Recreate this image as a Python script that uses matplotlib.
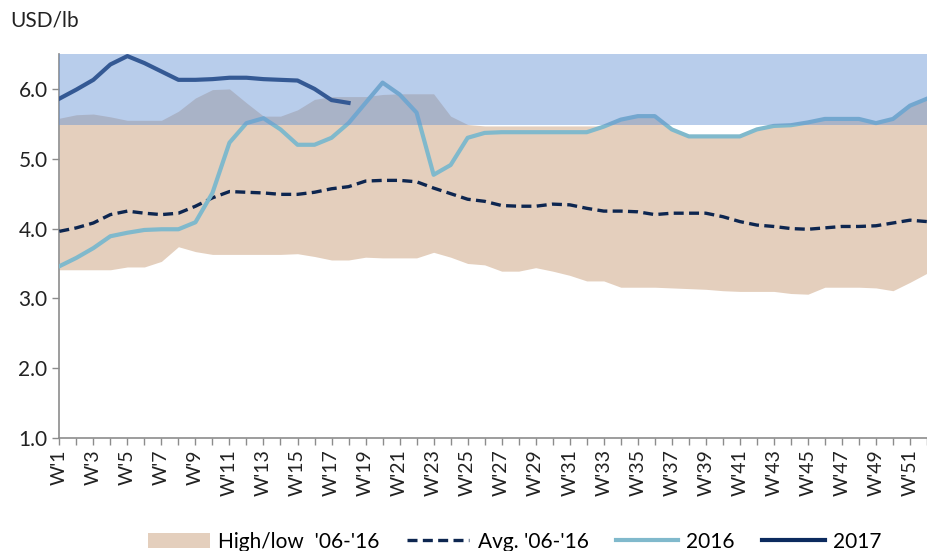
import numpy as np
import matplotlib
matplotlib.use("Agg")
import matplotlib.pyplot as plt
from matplotlib.patches import Patch
from matplotlib.lines import Line2D

plt.rcParams['font.family'] = ['Lato', 'DejaVu Sans']

weeks = [f"W'{i}" for i in range(1, 53)]

band_high = [5.58, 5.63, 5.64, 5.60, 5.55, 5.55, 5.55, 5.68, 5.87, 5.99,
             6.00, 5.80, 5.61, 5.61, 5.70, 5.85, 5.89, 5.89, 5.89, 5.92,
             5.93, 5.93, 5.93, 5.61, 5.49, 5.47, 5.47, 5.47, 5.47, 5.47,
             5.47, 5.47, 5.47, 5.56, 5.61, 5.61, 5.42, 5.32, 5.32, 5.32,
             5.32, 5.42, 5.47, 5.48, 5.52, 5.57, 5.57, 5.57, 5.52, 5.57,
             5.76, 5.86]
band_low = [3.41, 3.41, 3.41, 3.41, 3.45, 3.45, 3.53, 3.74, 3.67, 3.63,
            3.63, 3.63, 3.63, 3.63, 3.64, 3.60, 3.55, 3.55, 3.59, 3.58,
            3.58, 3.58, 3.66, 3.59, 3.50, 3.48, 3.39, 3.39, 3.44, 3.39,
            3.33, 3.25, 3.25, 3.16, 3.16, 3.16, 3.15, 3.14, 3.13, 3.11,
            3.10, 3.10, 3.10, 3.07, 3.06, 3.16, 3.16, 3.16, 3.15, 3.11,
            3.23, 3.36]
avg = [3.96, 4.01, 4.08, 4.20, 4.25, 4.22, 4.20, 4.22, 4.32, 4.44,
       4.53, 4.52, 4.51, 4.49, 4.49, 4.52, 4.57, 4.60, 4.68, 4.69,
       4.69, 4.67, 4.58, 4.50, 4.42, 4.39, 4.33, 4.32, 4.32, 4.35,
       4.34, 4.29, 4.25, 4.25, 4.24, 4.20, 4.22, 4.22, 4.22, 4.17,
       4.10, 4.05, 4.03, 4.00, 3.99, 4.01, 4.03, 4.03, 4.04, 4.08,
       4.12, 4.10]
y2016 = [3.46, 3.58, 3.72, 3.89, 3.94, 3.98, 3.99, 3.99, 4.09, 4.51,
         5.23, 5.51, 5.58, 5.42, 5.20, 5.20, 5.30, 5.51, 5.80, 6.09,
         5.92, 5.66, 4.77, 4.91, 5.30, 5.37, 5.38, 5.38, 5.38, 5.38,
         5.38, 5.38, 5.46, 5.56, 5.61, 5.61, 5.42, 5.32, 5.32, 5.32,
         5.32, 5.42, 5.47, 5.48, 5.52, 5.57, 5.57, 5.57, 5.51, 5.57,
         5.76, 5.86]
y2017 = [5.86, 5.99, 6.13, 6.35, 6.47, 6.37, 6.25, 6.13, 6.13, 6.14,
         6.16, 6.16, 6.14, 6.13, 6.12, 6.00, 5.84, 5.80]

x = np.arange(len(weeks))

fig = plt.figure(figsize=(9.27, 5.51), dpi=100)
ax = fig.add_axes([0.064, 0.205, 0.936, 0.697])

ax.fill_between(x, band_low, band_high, color='#e4cfbd', lw=0, zorder=1)
ax.plot(x, avg, color='#0d2650', lw=2.4, ls=(0, (3, 1.6)), zorder=3)
ax.plot(x, y2016, color='#80b9cc', lw=3, zorder=3)
ax.plot(x[:len(y2017)], y2017, color='#0c2a5e', lw=3, zorder=3)

# highlighted price zone
ax.axhspan(5.48, 6.5, color='#6592d4', alpha=0.46, lw=0, zorder=4)

ax.set_xlim(0, 50.86)
ax.set_ylim(1.0, 6.5)
ax.set_yticks(np.arange(1, 6.5, 1.0))
ax.set_yticklabels([f"{v:.1f}" for v in np.arange(1, 6.5, 1.0)],
                   fontsize=15, color='#222222')
ax.set_xticks(x)
ax.set_xticklabels([w if i % 2 == 0 else '' for i, w in enumerate(weeks)],
                   rotation=90, fontsize=14, color='#222222')

for s in ['top', 'right']:
    ax.spines[s].set_visible(False)
for s in ['left', 'bottom']:
    ax.spines[s].set_color('#8c8c8c')
    ax.spines[s].set_linewidth(1.2)
ax.tick_params(axis='both', color='#8c8c8c', length=5, width=1)
ax.tick_params(axis='x', pad=3)

fig.text(0.011, 0.962, 'USD/lb', fontsize=15, color='#222222',
         ha='left', va='center')

handles = [
    Patch(facecolor='#e4cfbd', edgecolor='none'),
    Line2D([], [], color='#0d2650', lw=2.4, ls=(0, (3, 1.6))),
    Line2D([], [], color='#80b9cc', lw=3),
    Line2D([], [], color='#0c2a5e', lw=3),
]
labels = ["High/low  '06-'16", "Avg. '06-'16", "2016", "2017"]
fig.legend(handles, labels, loc='lower center', ncol=4, frameon=False,
           fontsize=15, bbox_to_anchor=(0.555, -0.035), handlelength=3.0,
           columnspacing=1.3, handletextpad=0.4)

fig.savefig('out.png', dpi=100)
